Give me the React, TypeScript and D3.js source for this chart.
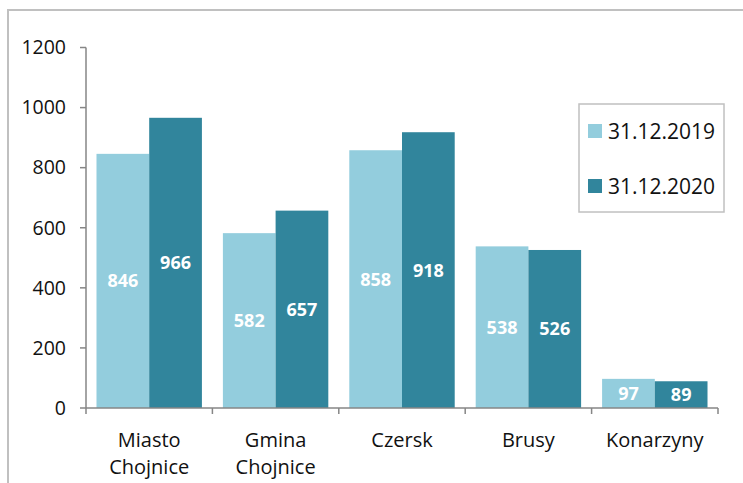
import React from 'react'
import * as d3 from 'd3'

// dane z wykresu
const gminy = [['Miasto', 'Chojnice'], ['Gmina', 'Chojnice'], ['Czersk'], ['Brusy'], ['Konarzyny']]
const serie = ['31.12.2019', '31.12.2020']
const v2019 = [846, 582, 858, 538, 97]
const v2020 = [966, 657, 918, 526, 89]
const yTicks = [0, 200, 400, 600, 800, 1000, 1200]
const kolory = ['#93cddd', '#31859c']

const W = 743, H = 483
const margin = {top: 47.5, left: 86, bottom: 75, right: 25}
const font = '"Open Sans", sans-serif'

export default function App() {
    const names = gminy.map(g => g.join(' '))
    const x = d3.scaleBand<string>().domain(names).range([margin.left, W - margin.right])
        .paddingInner(0.166).paddingOuter(0.083)
    const xs = d3.scaleBand<string>().domain(serie).range([0, x.bandwidth()])
    const y = d3.scaleLinear().domain([0, 1200]).range([H - margin.bottom, margin.top])
    const step = x.step()
    const x0 = margin.left, x1 = W - margin.right, yb = y(0)
    const values = [v2019, v2020]

    return <div style={{position: 'absolute', left: 0, top: 0}}>
        <svg width={W} height={H} style={{display: 'block', fontFamily: font}}>
            <rect width={W} height={H} fill="#fff"/>
            <rect x={8} y={10} width={W + 20} height={H + 20} fill="none" stroke="#c0c0c0" strokeWidth={2}/>

            {/* słupki */}
            {serie.map((s, si) => names.map((n, i) => {
                const v = values[si][i]
                const bx = (x(n) as number) + (xs(s) as number)
                return <g key={s + n}>
                    <rect x={bx} y={y(v)} width={xs.bandwidth()} height={yb - y(v)} fill={kolory[si]}/>
                    <text x={bx + xs.bandwidth() / 2} y={(y(v) + yb) / 2} dy="0.36em" textAnchor="middle"
                          fill="#fff" fontWeight="bold" fontSize={18}>{v}</text>
                </g>
            }))}

            {/* oś Y */}
            <line x1={x0} x2={x0} y1={y(1200)} y2={yb} stroke="#868686" strokeWidth={1.5}/>
            {yTicks.map(t => <g key={t}>
                <line x1={x0 - 6} x2={x0} y1={y(t)} y2={y(t)} stroke="#868686" strokeWidth={1.5}/>
                <text x={66} y={y(t)} dy="0.35em" textAnchor="end" fontSize={19.5} fill="#111">{t}</text>
            </g>)}

            {/* oś X */}
            <line x1={x0} x2={x1} y1={yb} y2={yb} stroke="#868686" strokeWidth={1.5}/>
            {d3.range(names.length + 1).map(i => <line key={i} x1={x0 + i * step} x2={x0 + i * step}
                  y1={yb} y2={yb + 6} stroke="#868686" strokeWidth={1.5}/>)}
            {gminy.map((g, i) => <text key={i} x={(x(names[i]) as number) + x.bandwidth() / 2} y={447}
                  textAnchor="middle" fontSize={20} fill="#111">
                {g.map((l, j) => <tspan key={j} x={(x(names[i]) as number) + x.bandwidth() / 2} dy={j ? 27 : 0}>{l}</tspan>)}
            </text>)}

            {/* legenda */}
            <rect x={579} y={104} width={145} height={108} fill="#fff" stroke="#c0c0c0" strokeWidth={1.5}/>
            {serie.map((s, i) => <g key={s} transform={`translate(588,${124 + i * 55})`}>
                <rect width={14} height={14} fill={kolory[i]}/>
                <text x={20} y={7} dy="0.36em" fontSize={21} fill="#111">{s}</text>
            </g>)}
        </svg>
    </div>
}
